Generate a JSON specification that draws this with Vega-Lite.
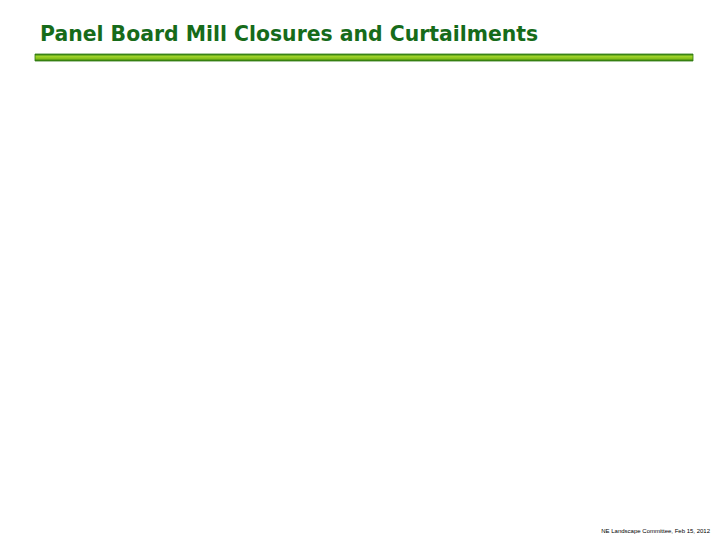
{
  "$schema": "https://vega.github.io/schema/vega-lite/v6.json",
  "autosize": "none",
  "padding": {"left": 35, "top": 54, "right": 27, "bottom": 15},
  "width": 658,
  "height": 471,
  "background": "white",
  "config": {"view": {"stroke": null}},
  "title": {
    "text": "Panel Board Mill Closures and Curtailments",
    "anchor": "start",
    "frame": "group",
    "dx": 5,
    "dy": 18,
    "offset": 10,
    "baseline": "alphabetic",
    "font": "DejaVu Sans",
    "fontSize": 20.4,
    "fontWeight": "bold",
    "color": "#166b1a"
  },
  "datasets": {
    "slide": [
      {"section": "header", "footer": "NE Landscape Committee, Feb 15, 2012"}
    ]
  },
  "data": {"name": "slide"},
  "layer": [
    {
      "mark": {
        "type": "rect",
        "fill": {
          "gradient": "linear",
          "x1": 0, "y1": 0, "x2": 0, "y2": 1,
          "stops": [
            {"offset": 0, "color": "#2b7a10"},
            {"offset": 0.35, "color": "#9fd32a"},
            {"offset": 0.65, "color": "#86c01a"},
            {"offset": 1, "color": "#2a760c"}
          ]
        },
        "stroke": "#2f7a12",
        "strokeWidth": 0.8
      },
      "encoding": {
        "x": {"value": 0},
        "x2": {"value": "width"},
        "y": {"value": 0},
        "y2": {"value": 7}
      }
    },
    {
      "mark": {
        "type": "text",
        "align": "right",
        "baseline": "alphabetic",
        "font": "Liberation Sans",
        "fontSize": 6,
        "color": "#000000",
        "dx": 17,
        "dy": 8
      },
      "encoding": {
        "text": {"field": "footer"},
        "x": {"value": "width"},
        "y": {"value": "height"},
        "tooltip": {"field": "footer"}
      }
    }
  ]
}
